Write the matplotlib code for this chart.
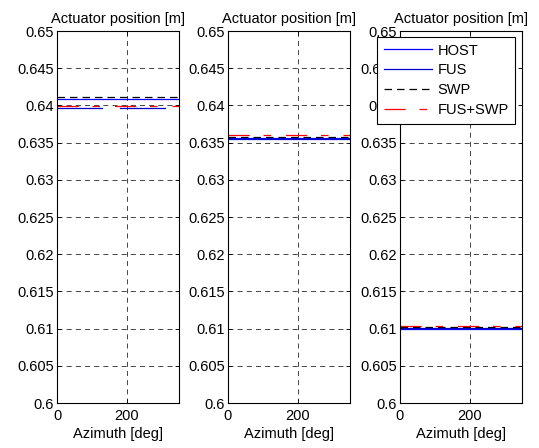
import numpy as np
import matplotlib.pyplot as plt
from matplotlib.ticker import FormatStrFormatter

plt.rcParams['font.family'] = ['Liberation Sans', 'DejaVu Sans']
plt.rcParams['font.size'] = 10.5

# azimuth samples [deg]
azimuth = np.arange(0, 351, 10)
n = len(azimuth)

# actuator positions per panel [m]
host = [0.6409, 0.63565, 0.6100]
fus = [0.6396, 0.6355, 0.6101]
swp = [0.6411, 0.6357, 0.6102]
fus_swp = [0.6399, 0.6360, 0.6104]

# panel 1 FUS signal drops out in two azimuth windows
fus_gaps = [(140, 170), (320, 350)]

yticks = np.arange(0.6, 0.6501, 0.005)

fig = plt.figure(figsize=(5.39, 4.48), dpi=100)
lefts = [57, 228, 400]
for i, left in enumerate(lefts):
    ax = fig.add_axes([left / 539, 1 - 403 / 448, 122 / 539, 372 / 448])

    fus_line = np.full(n, fus[i])
    if i == 0:
        for a, b in fus_gaps:
            fus_line[(azimuth >= a) & (azimuth <= b)] = np.nan

    l1, = ax.plot(azimuth, np.full(n, host[i]), color='#0000ff', lw=0.9, label='HOST')
    l2, = ax.plot(azimuth, fus_line, color='#0000cc', lw=0.9, label='FUS')
    l3, = ax.plot(azimuth, np.full(n, swp[i]), color='black', lw=0.9,
                  linestyle=(0, (6, 4)), label='SWP')
    l4, = ax.plot(azimuth, np.full(n, fus_swp[i]), color='#ff0000', lw=0.9,
                  linestyle=(0, (17, 11, 6, 12)), label='FUS+SWP')

    ax.set_xlim(0, 350)
    ax.set_ylim(0.6, 0.65)
    ax.set_xticks([0, 200])
    ax.set_yticks(yticks)
    ax.yaxis.set_major_formatter(FormatStrFormatter('%g'))
    ax.grid(True, color='black', linestyle=(0, (6, 5)), lw=0.6, alpha=0.85)
    ax.tick_params(direction='in', top=True, right=True, length=3, width=0.6,
                   labelsize=10.5, pad=2)
    ax.tick_params(axis='x', pad=4)
    for s in ax.spines.values():
        s.set_linewidth(0.8)
    ax.set_title('Actuator position [m]', fontsize=10.5, pad=6)
    ax.set_xlabel('Azimuth [deg]', fontsize=10.5, labelpad=3)

leg = fig.legend(handles=[l1, l2, l3, l4], loc='upper left',
                 bbox_to_anchor=(377 / 539, 1 - 37 / 448), fontsize=10.5,
                 handlelength=3.3, handletextpad=0.4, borderpad=0.45,
                 labelspacing=0.4, borderaxespad=0, fancybox=False,
                 framealpha=1, edgecolor='black')
leg.get_frame().set_linewidth(0.8)

fig.savefig('out.png', dpi=100)
